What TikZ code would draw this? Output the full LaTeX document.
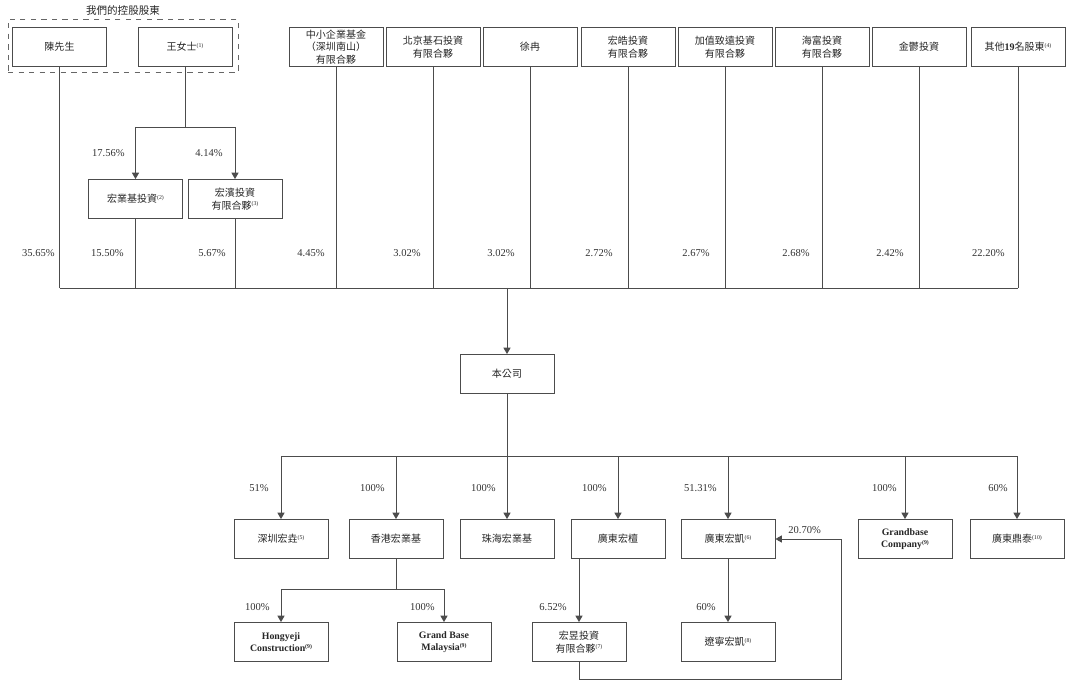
\documentclass[tikz,border=0pt]{standalone}
\usepackage{fontspec}
\setmainfont{Liberation Serif}
\newfontfamily\cjk{Noto Sans CJK TC}
\usetikzlibrary{arrows.meta,positioning}
\newcommand\fnote[1]{\raisebox{0.6ex}{\rmfamily\fontsize{3.3}{3.6}\selectfont(#1)}}

\tikzset{
	box/.style={draw=black!70, line width=0.5pt, minimum width=1.88cm, minimum height=0.78cm,
		inner sep=0pt, align=center, text=black!85, font=\cjk\fontsize{5.7}{7.2}\selectfont},
	engbox/.style={box, font=\rmfamily\bfseries\fontsize{5.6}{6.8}\selectfont},
	grpbox/.style={draw=black!60, dashed, line width=0.5pt, minimum width=4.6cm, minimum height=1.06cm, inner sep=0pt},
	link/.style={draw=black!70, line width=0.5pt},
	arr/.style={link, -{Triangle[width=4pt,length=3.6pt]}},
	pct/.style={anchor=east, inner sep=0pt, text=black!80, font=\fontsize{6}{7}\selectfont},
}

\begin{document}
\begin{tikzpicture}[x=0.02cm, y=-0.02cm]
		%%%%% START %%%%%
		\useasboundingbox (0,0) rectangle (1080,696);
		
		\coordinate (splitW) at (0,127);
		\coordinate (busA) at (0,288);
		\coordinate (busB) at (0,456);
		\coordinate (splitH) at (0,589);
		\coordinate (loopC) at (841,679);
		
		% shareholders
		\node[grpbox] (ctrl) at (123,46) {};
		\node[above=1pt of ctrl, inner sep=1pt, text=black!85, font=\cjk\fontsize{6}{7}\selectfont] (ctrltitle) {我們的控股股東};
		\node[box] (chen) at (59.5,47) {陳先生};
		\node[box] (wang) at (185,47) {王女士\fnote{1}};
		\node[box] (zxqy) at (336,47) {中小企業基金\\（深圳南山）\\有限合夥};
		\node[box] (bjjs) at (433,47) {北京基石投資\\有限合夥};
		\node[box] (xuran) at (530,47) {徐冉};
		\node[box] (honghao) at (628,47) {宏皓投資\\有限合夥};
		\node[box] (jzzy) at (725,47) {加值致遠投資\\有限合夥};
		\node[box] (haifu) at (822,47) {海富投資\\有限合夥};
		\node[box] (jinyu) at (919,47) {金鬱投資};
		\node[box] (others) at (1018,47) {其他{\rmfamily\bfseries 19}名股東\fnote{4}};
		
		\node[box] (hyjtz) at (135.5,199) {宏業基投資\fnote{2}};
		\node[box] (hbtz) at (235,199) {宏濱投資\\有限合夥\fnote{3}};
		
		\node[box] (company) at (507,374) {本公司};
		
		% subsidiaries
		\node[box] (szhy) at (281,539) {深圳宏垚\fnote{5}};
		\node[box] (hkhyj) at (396,539) {香港宏業基};
		\node[box] (zhhyj) at (507,539) {珠海宏業基};
		\node[box] (gdht) at (618,539) {廣東宏檀};
		\node[box] (gdhk) at (728,539) {廣東宏凱\fnote{6}};
		\node[engbox] (gbco) at (905,539) {Grandbase\\Company\fnote{9}};
		\node[box] (gddt) at (1017,539) {廣東鼎泰\fnote{10}};
		
		\node[engbox] (hyjc) at (281,642) {Hongyeji\\Construction\fnote{9}};
		\node[engbox] (gbm) at (444,642) {Grand Base\\Malaysia\fnote{9}};
		\node[box] (hytz) at (579,642) {宏昱投資\\有限合夥\fnote{7}};
		\node[box] (lnhk) at (728,642) {遼寧宏凱\fnote{8}};
		
		% holdings in the company
		\draw[link] (wang.south) -- (wang.south |- splitW);
		\draw[link] (hyjtz.north |- splitW) -- (hbtz.north |- splitW);
		\draw[arr] (hyjtz.north |- splitW) -- (hyjtz.north);
		\draw[arr] (hbtz.north |- splitW) -- (hbtz.north);
		\foreach \n in {chen,hyjtz,hbtz,zxqy,bjjs,xuran,honghao,jzzy,haifu,jinyu,others}
			\draw[link] (\n.south) -- (\n.south |- busA);
		\draw[link] (chen.south |- busA) -- (others.south |- busA);
		\draw[arr] (company.north |- busA) -- (company.north);
		
		\node[pct] (pw1) at (125,153) {17.56\%};
		\node[pct] (pw2) at (223,153) {4.14\%};
		\foreach \nm/\px/\pv in {pa/55/35.65, pb/124/15.50, pc/226/5.67, pd/325/4.45, pe/421/3.02,
			pf/515/3.02, pg/613/2.72, ph/710/2.67, pi/810/2.68, pj/904/2.42, pk/1005/22.20}
			\node[pct] (\nm) at (\px,253) {\pv\%};
		
		% company to subsidiaries
		\draw[link] (company.south) -- (company.south |- busB);
		\draw[link] (szhy.north |- busB) -- (gddt.north |- busB);
		\foreach \n in {szhy,hkhyj,zhhyj,gdht,gdhk,gbco,gddt}
			\draw[arr] (\n.north |- busB) -- (\n.north);
		\foreach \nm/\px/\pv in {sa/269/51, sb/385/100, sc/496/100, sd/607/100, se/717/51.31, sf/897/100, sg/1008/60}
			\node[pct] (\nm) at (\px,488) {\pv\%};
		
		% lower tier
		\draw[link] (hkhyj.south) -- (hkhyj.south |- splitH);
		\draw[link] (hyjc.north |- splitH) -- (gbm.north |- splitH);
		\draw[arr] (hyjc.north |- splitH) -- (hyjc.north);
		\draw[arr] (gbm.north |- splitH) -- (gbm.north);
		\draw[arr] (gdht.south -| hytz.north) -- (hytz.north);
		\draw[arr] (gdhk.south) -- (lnhk.north);
		\draw[arr] (hytz.south) |- (loopC) |- (gdhk.east);
		
		\foreach \nm/\px/\pv in {ta/270/100, tb/435/100, tc/567/6.52, td/716/60}
			\node[pct] (\nm) at (\px,607) {\pv\%};
		\node[pct, anchor=west] (te) at (788,530) {20.70\%};
		
		%%%%% END %%%%%
	\end{tikzpicture}
\end{document}
